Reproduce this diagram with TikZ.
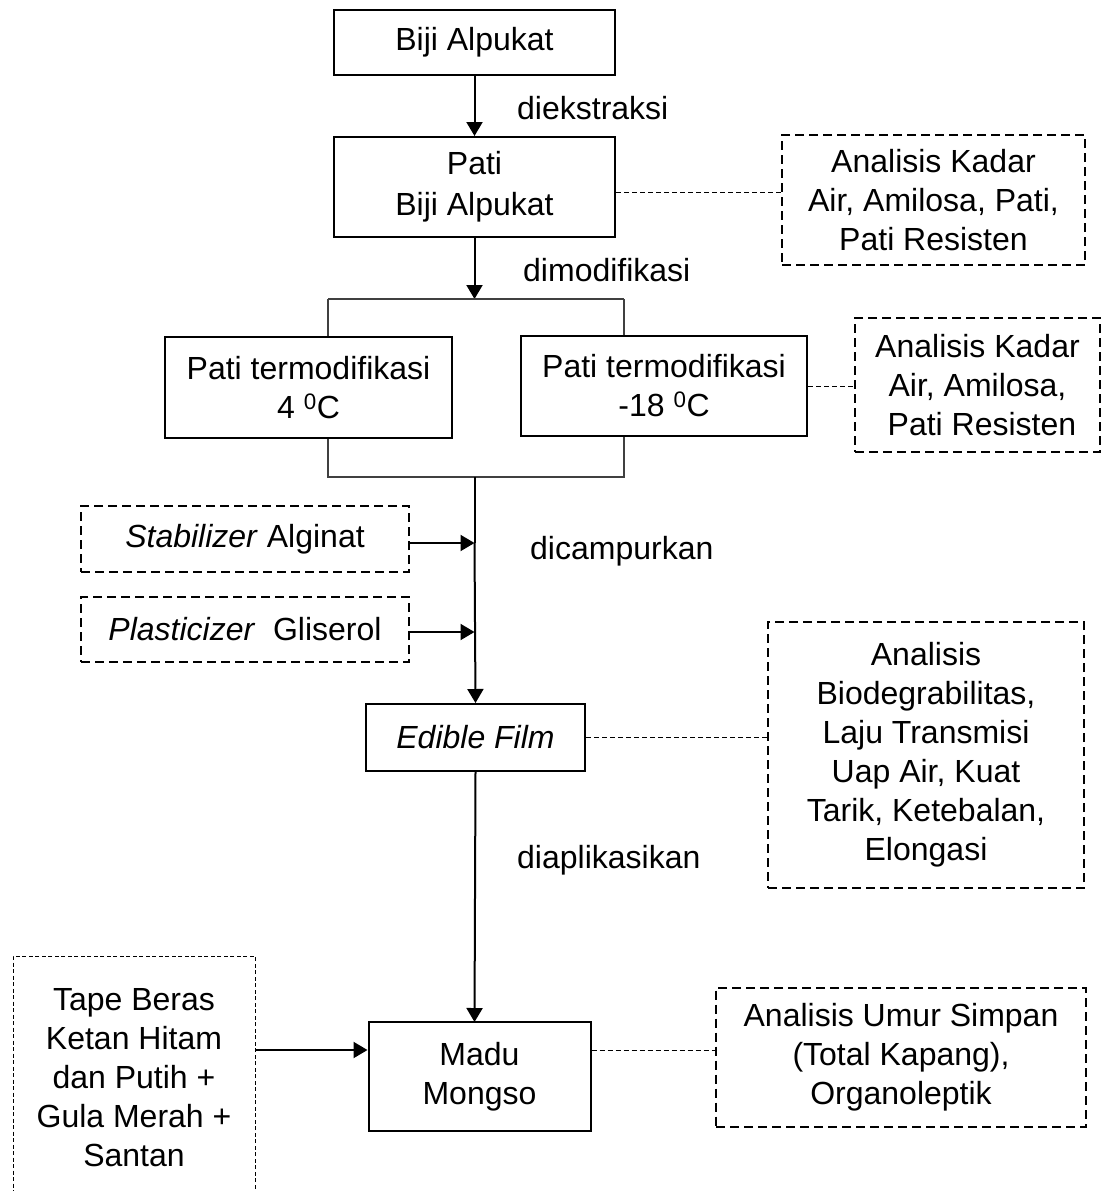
\documentclass[tikz,border=0pt]{standalone}
\usepackage{fontspec}
\setmainfont{Liberation Sans}
\usetikzlibrary{arrows.meta,calc}
\begin{document}
\begin{tikzpicture}[x=1pt,y=-1pt,
  every node/.style={font=\fontsize{32}{39}\selectfont, align=center, inner sep=0pt},
  mainbox/.style={draw, line width=2pt, minimum width=#1},
  anbox/.style={draw, line width=2pt, dash pattern=on 9pt off 5pt},
  thinbox/.style={draw, line width=1pt, dash pattern=on 4pt off 2.5pt},
  flow/.style={line width=2pt, -{Triangle[length=14pt,width=16pt]}},
  link/.style={line width=1pt, dash pattern=on 5pt off 3pt},
  brk/.style={line width=1.2pt, black!75},
  lbl/.style={anchor=west}
]
\useasboundingbox (0,0) rectangle (1104,1191);

% main boxes
\node[mainbox=281pt, minimum height=65pt] (b1) at (474.5,42.5) {Biji Alpukat};
\node[mainbox=281pt, minimum height=100pt, font=\fontsize{32}{41}\selectfont] (b2) at (474.5,187) {Pati\\Biji Alpukat};
\node[mainbox=287pt, minimum height=101pt] (b3) at (308.5,387.5) {Pati termodifikasi\\4 \textsuperscript{0}C};
\node[mainbox=286pt, minimum height=100pt] (b4) at (664,386) {Pati termodifikasi\\-18 \textsuperscript{0}C};
\node[mainbox=219pt, minimum height=67pt] (ef) at (475.5,737.5) {\textit{Edible Film}};
\node[mainbox=222pt, minimum height=109pt] (madu) at (479.5,1076.5) {Madu\\Mongso};

% side input boxes
\node[anbox, minimum width=328pt, minimum height=66pt] (stab) at (245,539) {\textit{Stabilizer} Alginat};
\node[anbox, minimum width=328pt, minimum height=65pt] (plast) at (245,629.5) {\textit{Plasticizer}~ Gliserol};
\node[thinbox, minimum width=242pt, minimum height=244pt] (tape) at (134,1078) {Tape Beras\\Ketan Hitam\\dan Putih +\\Gula Merah +\\Santan};

% analysis boxes
\node[anbox, minimum width=303pt, minimum height=130pt] (a1) at (933.5,200) {Analisis Kadar\\Air, Amilosa, Pati,\\Pati Resisten};
\node[anbox, minimum width=245pt, minimum height=134pt] (a2) at (977.5,385) {Analisis Kadar\\Air, Amilosa,\\\ Pati Resisten};
\node[anbox, minimum width=316pt, minimum height=266pt] (a3) at (926,755) {Analisis\\Biodegrabilitas,\\Laju Transmisi\\Uap Air, Kuat\\Tarik, Ketebalan,\\Elongasi};
\node[anbox, minimum width=370pt, minimum height=139pt] (a4) at (901,1057) {Analisis Umur Simpan\\(Total Kapang),\\Organoleptik};

% bracket coordinates
\coordinate (top) at (474.5,299);
\coordinate (tl) at (328,299);
\coordinate (tr) at (624,299);
\coordinate (bot) at (474.5,477);
\coordinate (bl) at (328,477);
\coordinate (br) at (624,477);
\coordinate (i1) at (474.5,543);
\coordinate (i2) at (474.5,632);
\coordinate (mtop) at (474.5,1022);

% main flow
\draw[flow] (b1.south) -- (b2.north);
\draw[flow] (b2.south) -- (top);
\draw[brk] (tl) -- (tr);
\draw[brk] (tl) -- (tl |- b3.north);
\draw[brk] (tr) -- (tr |- b4.north);
\draw[brk] (bl |- b3.south) -- (bl) -- (br) -- (br |- b4.south);
\draw[line width=2pt] (bot) -- (i1);
\draw[flow] (i1) -- (ef.north);
\draw[flow] (ef.south) -- (mtop);
\draw[flow] (stab.east |- i1) -- (i1);
\draw[flow] (plast.east |- i2) -- (i2);
\draw[flow] (tape.east |- 0,1050) -- (madu.west |- 0,1050);

% dashed links
\draw[link] (b2.east |- 0,192) -- (a1.west |- 0,192);
\draw[link] (b4.east) -- (a2.west |- b4.east);
\draw[link] (ef.east) -- (a3.west |- ef.east);
\draw[link] (madu.east |- 0,1050) -- (a4.west |- 0,1050);

% labels
\node[lbl] (l1) at (517,108) {diekstraksi};
\node[lbl] (l2) at (523,270) {dimodifikasi};
\node[lbl] (l3) at (530,551) {dicampurkan};
\node[lbl] (l4) at (517,860) {diaplikasikan};
\end{tikzpicture}
\end{document}
